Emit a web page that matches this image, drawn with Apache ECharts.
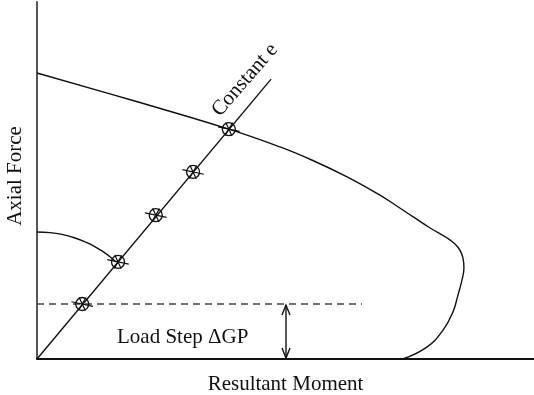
<!DOCTYPE html>
<html>
<head>
<meta charset="utf-8">
<script src="https://cdn.jsdelivr.net/npm/echarts@6/dist/echarts.min.js"></script>
<style>
html,body{margin:0;padding:0;background:#fff;}
#chart{width:534px;height:395px;}
</style>
</head>
<body>
<div id="chart"></div>
<script>
// Interaction (failure) surface
const curveMoment = [0, 19.3, 38.6, 48.9, 55.5, 62.4, 69.0, 73.0, 75.7, 79.1, 82.5, 84.1, 85.1, 85.7, 85.9, 85.5, 84.7, 83.7, 81.7, 78.5, 73.6];
const curveForce  = [80.1, 72.4, 64.4, 59.4, 55.6, 51.0, 45.9, 42.3, 39.8, 36.7, 33.9, 32.2, 30.5, 28.3, 25.5, 22.1, 17.9, 13.2, 8.1, 3.4, 0];
// Small initial yield arc
const arcMoment = [0, 2.6, 5.2, 7.65, 10.06, 11.87, 13.28, 14.69, 15.9];
const arcForce  = [35.57, 35.41, 34.85, 33.89, 32.58, 31.29, 30.06, 28.66, 27.17];
// Constant eccentricity load path
const pathMoment = [0, 47.1];
const pathForce  = [0, 78.4];
// Load step points on the path
const stepMoment = [9.1, 16.3, 23.9, 31.4, 38.6];
const stepForce  = [15.4, 27.2, 40.3, 52.4, 64.4];
// Load step level (dashed) and its dimension arrow
const stepLevel = 15.4;
const dashedEnd = 65.4;
const arrowMoment = 50.1;

const zip = (a, b) => a.map((v, i) => [v, b[i]]);

const chart = echarts.init(document.getElementById('chart'), null, {renderer: 'canvas'});
const FONT = 'Liberation Serif';

chart.setOption({
  animation: false,
  backgroundColor: '#fff',
  grid: {left: 37, right: 0, top: 2, bottom: 36, containLabel: false, outerBoundsMode: 'none'},
  xAxis: {
    type: 'value', min: 0, max: 100,
    name: 'Resultant Moment', nameLocation: 'middle', nameGap: 15,
    nameTextStyle: {fontFamily: FONT, fontSize: 21, color: '#111'},
    axisLine: {show: true, lineStyle: {color: '#111', width: 2}},
    axisTick: {show: false}, axisLabel: {show: false}, splitLine: {show: false}
  },
  yAxis: {
    type: 'value', min: 0, max: 100,
    axisLine: {show: true, lineStyle: {color: '#555', width: 2}},
    axisTick: {show: false}, axisLabel: {show: false}, splitLine: {show: false}
  },
  series: [
    {
      type: 'line', data: zip(curveMoment, curveForce), smooth: 0.45,
      showSymbol: false, lineStyle: {color: '#111', width: 1.4}, z: 3
    },
    {
      type: 'line', data: zip(arcMoment, arcForce), smooth: 0.5,
      showSymbol: false, lineStyle: {color: '#111', width: 1.4}, z: 3
    },
    {
      type: 'line', data: zip(pathMoment, pathForce),
      showSymbol: false, lineStyle: {color: '#111', width: 1.4}, z: 3
    },
    {
      type: 'line', data: [[0, stepLevel], [dashedEnd, stepLevel]],
      showSymbol: false, lineStyle: {color: '#444', width: 1.4, type: [7, 5]}, z: 2
    },
    {
      type: 'custom', data: [[arrowMoment, 0, stepLevel]], z: 4,
      renderItem: function (params, api) {
        const top = api.coord([api.value(0), api.value(2)]);
        const bot = api.coord([api.value(0), api.value(1)]);
        const s = {stroke: '#111', lineWidth: 1.4, fill: 'none'};
        return {type: 'group', children: [
          {type: 'line', shape: {x1: top[0], y1: top[1] + 1, x2: bot[0], y2: bot[1] - 1}, style: s},
          {type: 'polyline', shape: {points: [[top[0] - 4, top[1] + 11], [top[0], top[1] + 1], [top[0] + 4, top[1] + 11]]}, style: s},
          {type: 'polyline', shape: {points: [[bot[0] - 4, bot[1] - 11], [bot[0], bot[1] - 1], [bot[0] + 4, bot[1] - 11]]}, style: s}
        ]};
      }
    },
    {
      type: 'custom', data: zip(stepMoment, stepForce), z: 5,
      renderItem: function (params, api) {
        const p = api.coord([api.value(0), api.value(1)]);
        const s = {stroke: '#111', lineWidth: 1.2, fill: 'none'};
        const ch = [{type: 'circle', shape: {cx: p[0], cy: p[1], r: 6.5}, style: {stroke: '#111', lineWidth: 1.3, fill: 'rgba(255,255,255,0)'}}];
        const spokes = [[-12, 11], [60, 7.5], [115, 7.5]];
        spokes.forEach(function (sp) {
          const a = sp[0] * Math.PI / 180, r = sp[1];
          ch.push({type: 'line', shape: {
            x1: p[0] - r * Math.cos(a), y1: p[1] + r * Math.sin(a),
            x2: p[0] + r * Math.cos(a), y2: p[1] - r * Math.sin(a)}, style: s});
        });
        return {type: 'group', children: ch};
      }
    }
  ],
  graphic: [
    {type: 'text', x: 15, y: 176, rotation: Math.PI / 2,
     style: {text: 'Axial Force', fontFamily: FONT, fontSize: 21, fill: '#111', align: 'center', verticalAlign: 'middle'}},
    {type: 'text', left: 117, top: 327, style: {text: 'Load Step ΔGP', fontFamily: FONT, fontSize: 21, fill: '#111'}},
    {type: 'text', x: 245, y: 80, rotation: 49 * Math.PI / 180,
     style: {text: 'Constant e', fontFamily: FONT, fontSize: 21, fill: '#111', align: 'center', verticalAlign: 'middle'}}
  ]
});
</script>
</body>
</html>
